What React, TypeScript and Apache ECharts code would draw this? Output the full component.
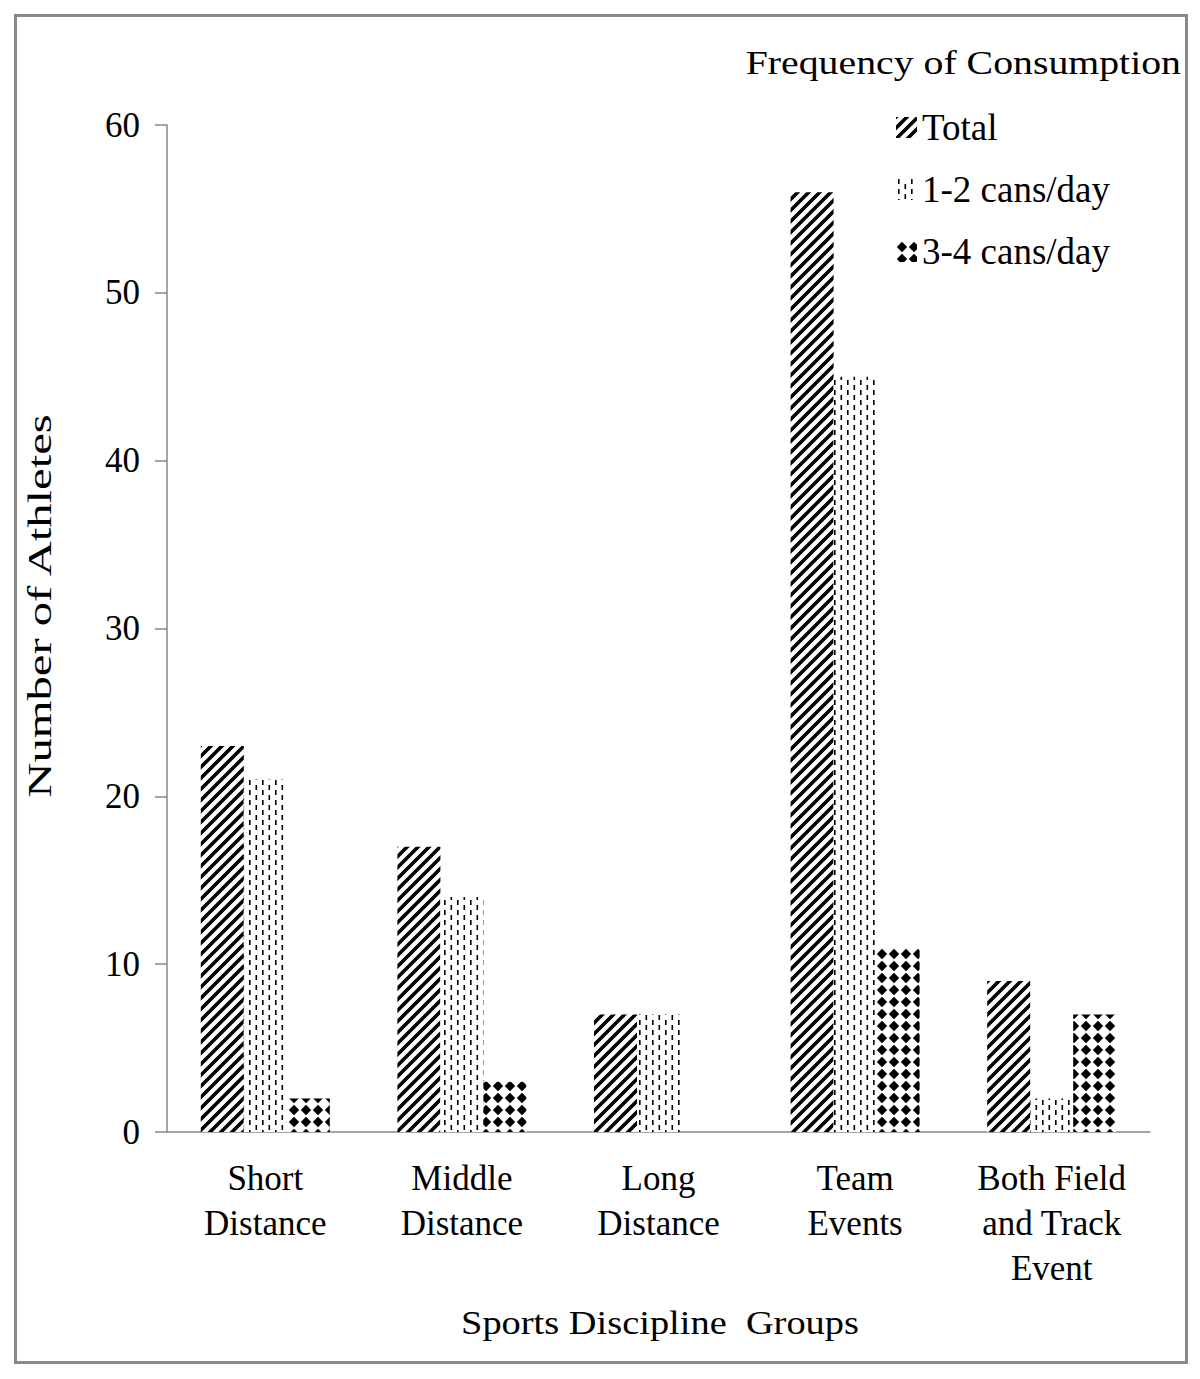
import React, { useEffect, useRef } from "react";
import * as echarts from "echarts";

const categories = [
  "Short\nDistance",
  "Middle\nDistance",
  "Long\nDistance",
  "Team\nEvents",
  "Both Field\nand Track\nEvent",
];
const seriesNames = ["Total", "1-2 cans/day", "3-4 cans/day"];
const totalValues = [23, 17, 7, 56, 9];
const cans12Values = [21, 14, 7, 45, 2];
const cans34Values = [2, 3, 0, 11, 7];
const yTicks = { min: 0, max: 60, interval: 10 };

const FONT = "'Liberation Serif', 'Times New Roman', serif";

function makeCanvas(w: number, h: number, draw: (c: CanvasRenderingContext2D) => void) {
  const cv = document.createElement("canvas");
  cv.width = w;
  cv.height = h;
  const ctx = cv.getContext("2d")!;
  ctx.fillStyle = "#fff";
  ctx.fillRect(0, 0, w, h);
  draw(ctx);
  return cv;
}

function diagPattern() {
  const s = 11;
  return makeCanvas(s, s, (c) => {
    c.strokeStyle = "#000";
    c.lineWidth = 3.6;
    c.lineCap = "square";
    c.beginPath();
    c.moveTo(-s, 2 * s);
    c.lineTo(2 * s, -s);
    c.moveTo(-s, s);
    c.lineTo(s, -s);
    c.moveTo(0, 2 * s);
    c.lineTo(2 * s, 0);
    c.stroke();
  });
}

function dashPattern() {
  const w = 13;
  const h = 10;
  return makeCanvas(w, h, (c) => {
    c.fillStyle = "#000";
    c.fillRect(2, 0, 1.6, 5);
    c.fillRect(8.5, 5, 1.6, 5);
  });
}

function diamondPattern() {
  const s = 12;
  return makeCanvas(s, s, (c) => {
    c.fillStyle = "#000";
    c.beginPath();
    c.moveTo(6, 0.8);
    c.lineTo(11.2, 6);
    c.lineTo(6, 11.2);
    c.lineTo(0.8, 6);
    c.closePath();
    c.fill();
  });
}

export default function App() {
  const ref = useRef<HTMLDivElement>(null);
  useEffect(() => {
    if (!ref.current) return;
    const chart = echarts.init(ref.current, null, { renderer: "svg" });
    const patterns = [diagPattern(), dashPattern(), diamondPattern()];
    const values = [totalValues, cans12Values, cans34Values];
    const option: any = {
      animation: false,
      backgroundColor: "#fff",
      grid: { left: 167, right: 50, top: 125, bottom: 247, containLabel: false },
      legend: {
        orient: "vertical",
        left: 891,
        top: 104,
        itemWidth: 21,
        itemHeight: 21,
        itemGap: 25,
        icon: "rect",
        data: seriesNames,
        textStyle: { fontFamily: FONT, fontSize: 37, color: "#000", lineHeight: 32 },
      },
      xAxis: {
        type: "category",
        data: categories,
        axisLine: { lineStyle: { color: "#888", width: 1.5 } },
        axisTick: { show: false },
        axisLabel: {
          interval: 0,
          fontFamily: FONT,
          fontSize: 35,
          lineHeight: 45,
          color: "#000",
          margin: 24,
        },
      },
      yAxis: {
        type: "value",
        min: yTicks.min,
        max: yTicks.max,
        interval: yTicks.interval,
        splitLine: { show: false },
        axisLine: { show: true, lineStyle: { color: "#888", width: 1.5 } },
        axisTick: { show: true, length: 12, lineStyle: { color: "#888", width: 1.5 } },
        axisLabel: { fontFamily: FONT, fontSize: 35, color: "#000", margin: 27 },
      },
      series: seriesNames.map((name, i) => ({
        name,
        type: "bar",
        data: values[i],
        barWidth: 43,
        barGap: "0%",
        itemStyle: { color: { image: patterns[i], repeat: "repeat" } },
      })),
      graphic: [
        {
          type: "rect",
          shape: { x: 15.5, y: 15.5, width: 1171, height: 1347 },
          style: { fill: "none", stroke: "#888", lineWidth: 3 },
          silent: true,
        },
        {
          type: "text",
          x: 1181,
          y: 63,
          scaleX: 1.17,
          style: {
            text: "Frequency of Consumption",
            font: `34px ${FONT}`,
            fill: "#000",
            textAlign: "right",
            textVerticalAlign: "middle",
          },
        },
        {
          type: "text",
          x: 660,
          y: 1323,
          scaleX: 1.13,
          style: {
            text: "Sports Discipline  Groups",
            font: `34px ${FONT}`,
            fill: "#000",
            textAlign: "center",
            textVerticalAlign: "middle",
          },
        },
        {
          type: "text",
          x: 40,
          y: 606,
          rotation: Math.PI / 2,
          scaleX: 1.43,
          style: {
            text: "Number of Athletes",
            font: `34px ${FONT}`,
            fill: "#000",
            textAlign: "center",
            textVerticalAlign: "middle",
          },
        },
      ],
    };
    chart.setOption(option);
    return () => chart.dispose();
  }, []);
  return (
    <div
      ref={ref}
      style={{ position: "absolute", left: 0, top: 0, width: 1200, height: 1379 }}
    />
  );
}
